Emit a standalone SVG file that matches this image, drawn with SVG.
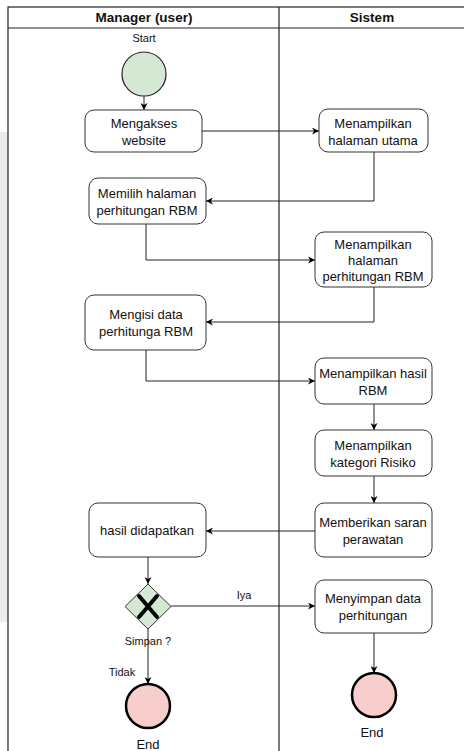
<svg xmlns="http://www.w3.org/2000/svg" width="464" height="751" viewBox="0 0 464 751">
  <defs>
    <marker id="arrow" viewBox="0 0 10 10" refX="10" refY="5" markerWidth="7" markerHeight="7" orient="auto" markerUnits="userSpaceOnUse">
      <path d="M0,0 L10,5 L0,10 L3,5 Z" fill="#000"/>
    </marker>
  </defs>
  <style>
    text { font-family: "Liberation Sans", Arial, sans-serif; fill: #111; }
    .hdr { font-size: 13.5px; font-weight: bold; text-anchor: middle; }
    .lbl { font-size: 13px; text-anchor: middle; }
    .small { font-size: 11px; text-anchor: middle; }
    .act { fill: #fff; stroke: #333; stroke-width: 1; }
    .conn { fill: none; stroke: #222; stroke-width: 1; marker-end: url(#arrow); }
    .lane { fill: none; stroke: #222; stroke-width: 1.2; }
  </style>
  <rect width="464" height="751" fill="#fff"/>
  <!-- side strip -->
  <rect x="0" y="132" width="8" height="490" fill="#ececec"/>

  <!-- swimlanes -->
  <g id="lanes">
    <rect x="8" y="7" width="460" height="750" fill="#fff" class="lane"/>
    <line x1="8" y1="28" x2="464" y2="28" class="lane"/>
    <line x1="279" y1="7" x2="279" y2="751" class="lane"/>
    <text x="144" y="22" class="hdr">Manager (user)</text>
    <text x="372" y="22" class="hdr">Sistem</text>
  </g>

  <!-- connectors -->
  <g id="connectors">
    <path class="conn" d="M144,96 L144,110"/>
    <path class="conn" d="M202,131 L319,131"/>
    <path class="conn" d="M374,152 L374,201 L206,201"/>
    <path class="conn" d="M146,224 L146,260 L315,260"/>
    <path class="conn" d="M374,287 L374,322 L206,322"/>
    <path class="conn" d="M146,350 L146,381 L315,381"/>
    <path class="conn" d="M374,404 L374,430"/>
    <path class="conn" d="M374,476 L374,503"/>
    <path class="conn" d="M315,531 L206,531"/>
    <path class="conn" d="M148,557 L148,584"/>
    <path class="conn" d="M171,606 L315,606"/>
    <path class="conn" d="M374,633 L374,673"/>
    <path class="conn" d="M148,629 L148,684"/>
    <text x="244" y="599" class="small">Iya</text>
    <text x="122" y="676" class="small">Tidak</text>
  </g>

  <g id="start">
    <circle cx="144" cy="74" r="22" fill="#d5e8d4" stroke="#222" stroke-width="1.2"/>
    <text x="144" y="42" class="small">Start</text>
  </g>

  <g id="mengakses">
    <rect x="85" y="110" width="117" height="42" rx="9" class="act"/>
    <text x="144" y="128" class="lbl">Mengakses</text>
    <text x="144" y="145" class="lbl">website</text>
  </g>

  <g id="halaman-utama">
    <rect x="319" y="109" width="109" height="43" rx="9" class="act"/>
    <text x="373" y="128" class="lbl">Menampilkan</text>
    <text x="373" y="145" class="lbl">halaman utama</text>
  </g>

  <g id="memilih">
    <rect x="89" y="178" width="117" height="46" rx="9" class="act"/>
    <text x="147" y="198" class="lbl">Memilih halaman</text>
    <text x="147" y="215" class="lbl">perhitungan RBM</text>
  </g>

  <g id="halaman-perhitungan">
    <rect x="315" y="232" width="117" height="55" rx="9" class="act"/>
    <text x="373" y="249" class="lbl">Menampilkan</text>
    <text x="373" y="265" class="lbl">halaman</text>
    <text x="373" y="281" class="lbl">perhitungan RBM</text>
  </g>

  <g id="mengisi">
    <rect x="85" y="295" width="121" height="55" rx="9" class="act"/>
    <text x="146" y="319" class="lbl">Mengisi data</text>
    <text x="146" y="336" class="lbl">perhitunga RBM</text>
  </g>

  <g id="hasil-rbm">
    <rect x="315" y="358" width="117" height="46" rx="9" class="act"/>
    <text x="373" y="378" class="lbl">Menampilkan hasil</text>
    <text x="373" y="395" class="lbl">RBM</text>
  </g>

  <g id="kategori">
    <rect x="315" y="430" width="117" height="46" rx="9" class="act"/>
    <text x="373" y="450" class="lbl">Menampilkan</text>
    <text x="373" y="467" class="lbl">kategori Risiko</text>
  </g>

  <g id="saran">
    <rect x="315" y="503" width="117" height="54" rx="9" class="act"/>
    <text x="373" y="527" class="lbl">Memberikan saran</text>
    <text x="373" y="544" class="lbl">perawatan</text>
  </g>

  <g id="hasil-didapatkan">
    <rect x="89" y="503" width="117" height="54" rx="9" class="act"/>
    <text x="147" y="535" class="lbl">hasil didapatkan</text>
  </g>

  <g id="gateway">
    <path d="M148,584 L171,606.5 L148,629 L125,606.5 Z" fill="#d5e8d4" stroke="#333" stroke-width="1"/>
    <path d="M139,596 L157,617 M157,596 L139,617" stroke="#000" stroke-width="4" stroke-linecap="round"/>
    <text x="148" y="645" class="small">Simpan ?</text>
  </g>

  <g id="menyimpan">
    <rect x="315" y="580" width="117" height="53" rx="9" class="act"/>
    <text x="373" y="603" class="lbl">Menyimpan data</text>
    <text x="373" y="620" class="lbl">perhitungan</text>
  </g>

  <g id="end-left">
    <circle cx="148" cy="706" r="22" fill="#f8cecc" stroke="#000" stroke-width="2.5"/>
    <text x="148" y="749" class="lbl">End</text>
  </g>

  <g id="end-right">
    <circle cx="374" cy="695" r="22" fill="#f8cecc" stroke="#000" stroke-width="2.5"/>
    <text x="372" y="737" class="lbl">End</text>
  </g>
</svg>
